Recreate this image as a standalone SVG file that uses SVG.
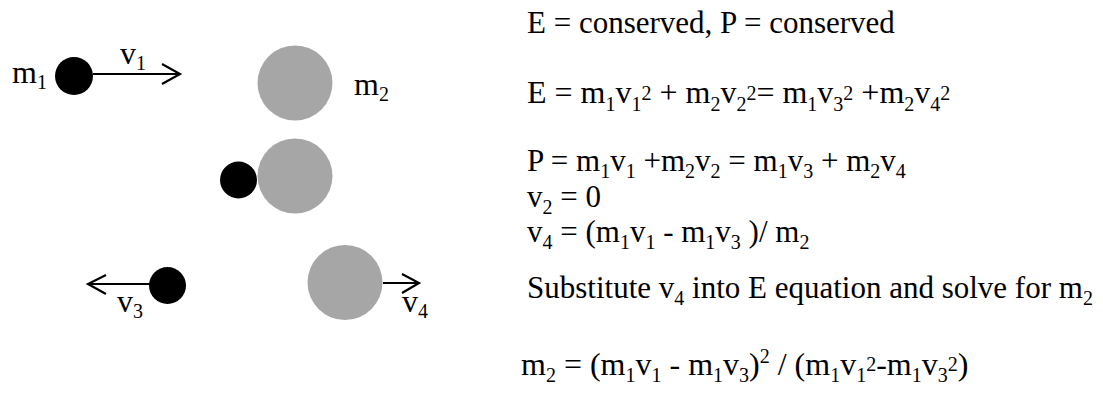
<svg xmlns="http://www.w3.org/2000/svg" width="1103" height="394" viewBox="0 0 1103 394">
<style>
text{font-family:'Liberation Serif','Times New Roman','DejaVu Serif',serif;font-size:31px;fill:#000}
.lbl{font-size:32px}
.big{font-size:32px}
.s{font-size:20px}
.blk{fill:#000}
.gry{fill:#a6a6a6}
.arr{stroke:#000;stroke-width:2.2;fill:none}
</style>
<rect width="1103" height="394" fill="#fff"/>
<g id="before">
<circle cx="295" cy="83" r="37.5" class="gry"/>
<circle cx="74" cy="76" r="19" class="blk"/>
<text x="12" y="83" class="lbl">m<tspan class="s" dy="6">1</tspan></text>
<text x="120" y="64" class="lbl">v<tspan class="s" dy="6">1</tspan></text>
<text x="354" y="95" class="lbl">m<tspan class="s" dy="6">2</tspan></text>
</g>
<g id="contact">
<circle cx="295" cy="176" r="37.5" class="gry"/>
<circle cx="238.5" cy="180" r="18.5" class="blk"/>
</g>
<g id="after">
<circle cx="167.5" cy="285.5" r="18.5" class="blk"/>
<circle cx="345" cy="282.5" r="37.5" class="gry"/>
<text x="117" y="312" class="lbl">v<tspan class="s" dy="6">3</tspan></text>
<text x="402" y="312" class="lbl">v<tspan class="s" dy="6">4</tspan></text>
</g>
<g id="connectors">
<path d="M93 74H180M162 64L180 74L162 84" class="arr"/>
<path d="M150 284H88M106 275L88 284L106 294" class="arr"/>
<path d="M383 283H419M402 274L419 283L402 293" class="arr"/>
</g>
<g id="equations">
<text x="527" y="33">E = conserved, P = conserved</text>
<text x="527" y="103" class="big">E = m<tspan class="s" dy="8">1</tspan><tspan dy="-8">v</tspan><tspan class="s" dy="8">1</tspan><tspan class="s" dy="-11">2</tspan><tspan dy="3"> + m</tspan><tspan class="s" dy="8">2</tspan><tspan dy="-8">v</tspan><tspan class="s" dy="8">2</tspan><tspan class="s" dy="-11">2</tspan><tspan dy="3">= m</tspan><tspan class="s" dy="8">1</tspan><tspan dy="-8">v</tspan><tspan class="s" dy="8">3</tspan><tspan class="s" dy="-11">2</tspan><tspan dy="3"> +m</tspan><tspan class="s" dy="8">2</tspan><tspan dy="-8">v</tspan><tspan class="s" dy="8">4</tspan><tspan class="s" dy="-11">2</tspan></text>
<text x="527" y="171">P = m<tspan class="s" dy="7">1</tspan><tspan dy="-7">v</tspan><tspan class="s" dy="7">1</tspan><tspan dy="-7"> +m</tspan><tspan class="s" dy="7">2</tspan><tspan dy="-7">v</tspan><tspan class="s" dy="7">2</tspan><tspan dy="-7"> = m</tspan><tspan class="s" dy="7">1</tspan><tspan dy="-7">v</tspan><tspan class="s" dy="7">3</tspan><tspan dy="-7"> + m</tspan><tspan class="s" dy="7">2</tspan><tspan dy="-7">v</tspan><tspan class="s" dy="7">4</tspan></text>
<text x="527" y="207">v<tspan class="s" dy="7">2</tspan><tspan dy="-7"> = 0</tspan></text>
<text x="527" y="242">v<tspan class="s" dy="7">4</tspan><tspan dy="-7"> = (m</tspan><tspan class="s" dy="7">1</tspan><tspan dy="-7">v</tspan><tspan class="s" dy="7">1</tspan><tspan dy="-7"> - m</tspan><tspan class="s" dy="7">1</tspan><tspan dy="-7">v</tspan><tspan class="s" dy="7">3</tspan><tspan dy="-7"> )/ m</tspan><tspan class="s" dy="7">2</tspan></text>
<text x="527" y="298">Substitute v<tspan class="s" dy="7">4</tspan><tspan dy="-7"> into E equation and solve for m</tspan><tspan class="s" dy="7">2</tspan></text>
<text x="521" y="375" class="big">m<tspan class="s" dy="7">2</tspan><tspan dy="-7"> = (m</tspan><tspan class="s" dy="7">1</tspan><tspan dy="-7">v</tspan><tspan class="s" dy="7">1</tspan><tspan dy="-7"> - m</tspan><tspan class="s" dy="7">1</tspan><tspan dy="-7">v</tspan><tspan class="s" dy="7">3</tspan><tspan dy="-7">)</tspan><tspan class="s" dy="-12">2</tspan><tspan dy="12"> / (m</tspan><tspan class="s" dy="7">1</tspan><tspan dy="-7">v</tspan><tspan class="s" dy="7">1</tspan><tspan class="s" dy="-11">2</tspan><tspan dy="4">-m</tspan><tspan class="s" dy="7">1</tspan><tspan dy="-7">v</tspan><tspan class="s" dy="7">3</tspan><tspan class="s" dy="-11">2</tspan><tspan dy="4">)</tspan></text>
</g>
</svg>
